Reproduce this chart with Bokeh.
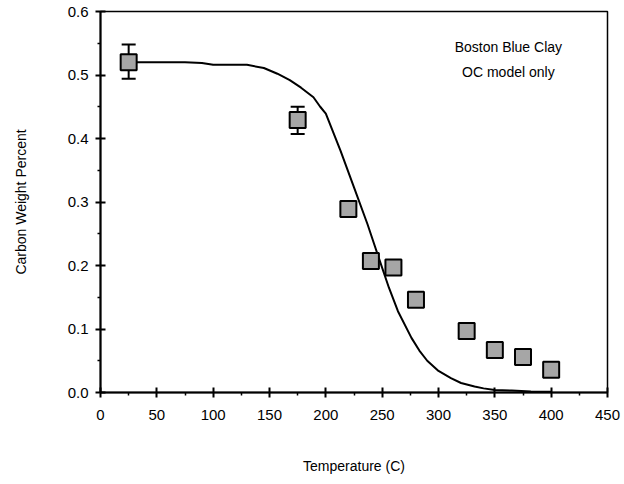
from bokeh.plotting import figure
from bokeh.models import (ColumnDataSource, FixedTicker, Range1d, Whisker,
                          TeeHead, PrintfTickFormatter)
from bokeh.core.properties import value
from bokeh.embed import file_html
from bokeh.resources import INLINE

# Measured carbon content (weight percent) vs. heating temperature
temp_obs = [25, 175, 220, 240, 260, 280, 325, 350, 375, 400]
carbon_obs = [0.520, 0.429, 0.289, 0.207, 0.197, 0.146, 0.097, 0.067, 0.056, 0.036]

# Error bars (only the first two samples have them)
temp_err = [25, 175]
err_upper = [0.548, 0.450]
err_lower = [0.494, 0.407]

# OC model curve
temp_model = [25, 50, 75, 90, 100, 130, 145, 157, 168, 178, 189, 195, 200,
              213, 225, 237, 247, 256, 264, 276, 283, 290, 300, 311, 320, 332,
              340, 350, 365, 382, 400]
carbon_model = [0.520, 0.520, 0.520, 0.519, 0.516, 0.516, 0.511, 0.502, 0.492,
                0.480, 0.465, 0.450, 0.439, 0.381, 0.323, 0.265, 0.212, 0.165,
                0.128, 0.086, 0.066, 0.050, 0.034, 0.0226, 0.015, 0.0095,
                0.0065, 0.004, 0.003, 0.0015, 0.001]

x_ticks = [0, 50, 100, 150, 200, 250, 300, 350, 400, 450]
x_minor = [25, 75, 125, 175, 225, 275, 325, 375, 425]
y_ticks = [0.0, 0.1, 0.2, 0.3, 0.4, 0.5, 0.6]
y_minor = [0.05, 0.15, 0.25, 0.35, 0.45, 0.55]

note_lines = ["Boston Blue Clay", "OC model only"]
note_y = [0.544, 0.505]
note_x = [362, 362]

FONT = "Liberation Sans"

p = figure(width=624, height=484, output_backend="svg", toolbar_location=None,
           x_range=Range1d(0, 450), y_range=Range1d(0, 0.6),
           min_border_left=100, min_border_right=17,
           min_border_top=11, min_border_bottom=92)

p.background_fill_color = "white"
p.border_fill_color = "white"
p.outline_line_color = "black"
p.outline_line_width = 1.5
p.xgrid.visible = False
p.ygrid.visible = False

p.xaxis.ticker = FixedTicker(ticks=x_ticks, minor_ticks=x_minor)
p.yaxis.ticker = FixedTicker(ticks=y_ticks, minor_ticks=y_minor)
p.yaxis.formatter = PrintfTickFormatter(format="%.1f")

for ax in (p.xaxis, p.yaxis):
    ax.axis_line_color = "black"
    ax.axis_line_width = 2
    ax.major_tick_line_color = "black"
    ax.major_tick_line_width = 2
    ax.minor_tick_line_color = "black"
    ax.minor_tick_line_width = 1.5
    ax.major_tick_in = 5
    ax.major_tick_out = 5
    ax.minor_tick_in = 0
    ax.minor_tick_out = 3
    ax.major_label_text_font = FONT
    ax.major_label_text_font_size = "15px"
    ax.major_label_text_color = "black"
    ax.axis_label_text_font = FONT
    ax.axis_label_text_font_size = "14px"
    ax.axis_label_text_font_style = "normal"
    ax.axis_label_text_color = "black"

p.xaxis.axis_label = "Temperature (C)"
p.yaxis.axis_label = "Carbon Weight Percent"
p.xaxis.major_label_standoff = 12
p.yaxis.major_label_standoff = 7
p.xaxis.axis_label_standoff = 35
p.yaxis.axis_label_standoff = 36

# model curve
p.line(temp_model, carbon_model, line_color="black", line_width=2)

# error bars
err_src = ColumnDataSource(dict(x=temp_err, upper=err_upper, lower=err_lower))
p.add_layout(Whisker(source=err_src, base="x", upper="upper", lower="lower",
                     line_color="black", line_width=2,
                     upper_head=TeeHead(size=14, line_width=2, line_color="black"),
                     lower_head=TeeHead(size=14, line_width=2, line_color="black")))

# measured samples
p.scatter(temp_obs, carbon_obs, marker="square", size=16,
          fill_color="#a6a6a6", line_color="black", line_width=2)

# annotation text
p.text(note_x, note_y, text=note_lines, text_align="center",
       text_baseline="middle", text_font=value(FONT), text_font_size="14px",
       text_color="black")

open("out.html", "w").write(file_html(p, INLINE))
